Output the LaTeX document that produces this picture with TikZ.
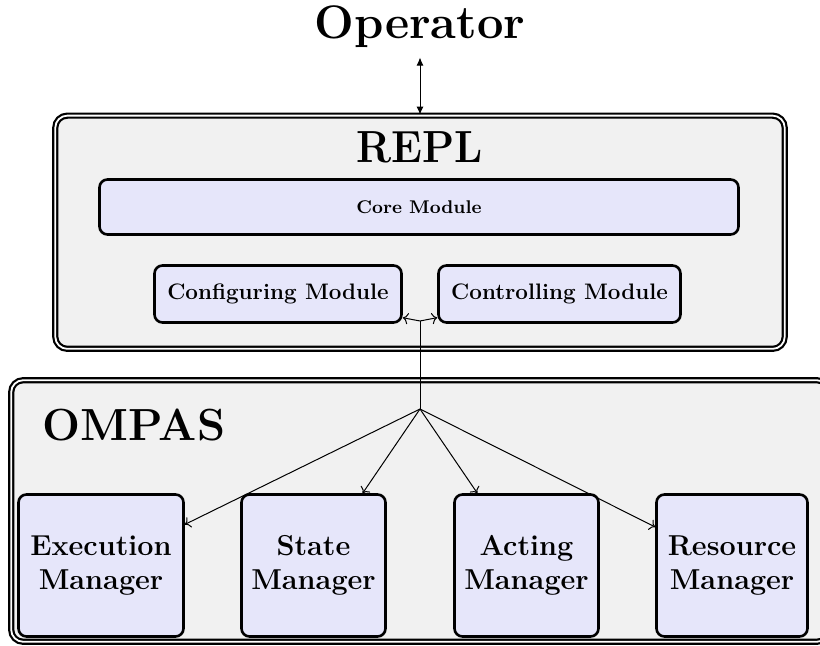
\documentclass[tikz,border=0pt]{standalone}
\usepackage{graphicx}
\usetikzlibrary{arrows.meta}
\definecolor{boxgray}{RGB}{241,241,241}
\definecolor{lav}{RGB}{230,230,250}
\newcommand{\sx}[2]{\scalebox{#1}[1]{#2}}
\begin{document}
\begin{tikzpicture}[x=0.5pt,y=-0.5pt,
  frame/.style={draw=black, double=white, line width=1.1pt, double distance=0.9pt,
    fill=boxgray, rounded corners=6pt, inner sep=0pt},
  modbox/.style={draw=black, line width=1.3pt, fill=lav, rounded corners=4pt,
    inner sep=0pt, align=center},
  smallmod/.style={modbox, minimum height=28.5pt, font=\fontsize{11.2}{13}\selectfont\bfseries},
  mgr/.style={modbox, minimum height=71pt, font=\fontsize{14.4}{17}\selectfont\bfseries},
  title/.style={font=\fontsize{22.5}{26}\selectfont\bfseries, inner sep=0pt},
  link/.style={->, line width=0.5pt}
]
\useasboundingbox (0,0) rectangle (820,646);
% frames
\node[frame, minimum width=364.7pt, minimum height=116.6pt] (repl) at (420,232.25) {};
\node[frame, minimum width=408.8pt, minimum height=130.8pt] (ompas) at (420,511) {};
% titles
\node[font=\fontsize{23.5}{28}\selectfont\bfseries, inner sep=0pt, anchor=base] (op) at (420,39) {Operator};
\node[title, anchor=base] (repltitle) at (420,163) {\sx{0.93}{REPL}};
\node[title, anchor=base west] (ompastitle) at (42,441) {OMPAS};
% modules
\node[modbox, minimum width=319.5pt, minimum height=27.5pt, font=\fontsize{9.2}{11}\selectfont\bfseries] (core) at (419,207) {Core Module};
\node[smallmod, minimum width=123.5pt] (conf) at (278,294) {Configuring Module};
\node[smallmod, minimum width=121pt] (ctrl) at (559.5,294) {Controlling Module};
% managers
\node[mgr, minimum width=82.5pt] (exec) at (101,565.5) {\begin{tabular}{@{}c@{}}Execution\\Manager\end{tabular}};
\node[mgr, minimum width=72pt] (state) at (313.5,565.5) {\begin{tabular}{@{}c@{}}State\\Manager\end{tabular}};
\node[mgr, minimum width=72pt] (act) at (526.5,565.5) {\begin{tabular}{@{}c@{}}Acting\\Manager\end{tabular}};
\node[mgr, minimum width=75.5pt] (res) at (732,565.5) {\begin{tabular}{@{}c@{}}Resource\\Manager\end{tabular}};
% connectors
\coordinate (hub) at (420,409);
\coordinate (top) at (420,321);
\draw[{Latex[length=4pt,width=3.5pt]}-{Latex[length=4pt,width=3.5pt]}, line width=0.5pt, shorten <=4.5pt] (op.south) -- (repl.north);
\draw[line width=0.5pt] (hub) -- (top);
\draw[link] (top) -- (conf);
\draw[link] (top) -- (ctrl);
\draw[link] (hub) -- (exec);
\draw[link] (hub) -- (state);
\draw[link] (hub) -- (act);
\draw[link] (hub) -- (res);
\end{tikzpicture}
\end{document}
